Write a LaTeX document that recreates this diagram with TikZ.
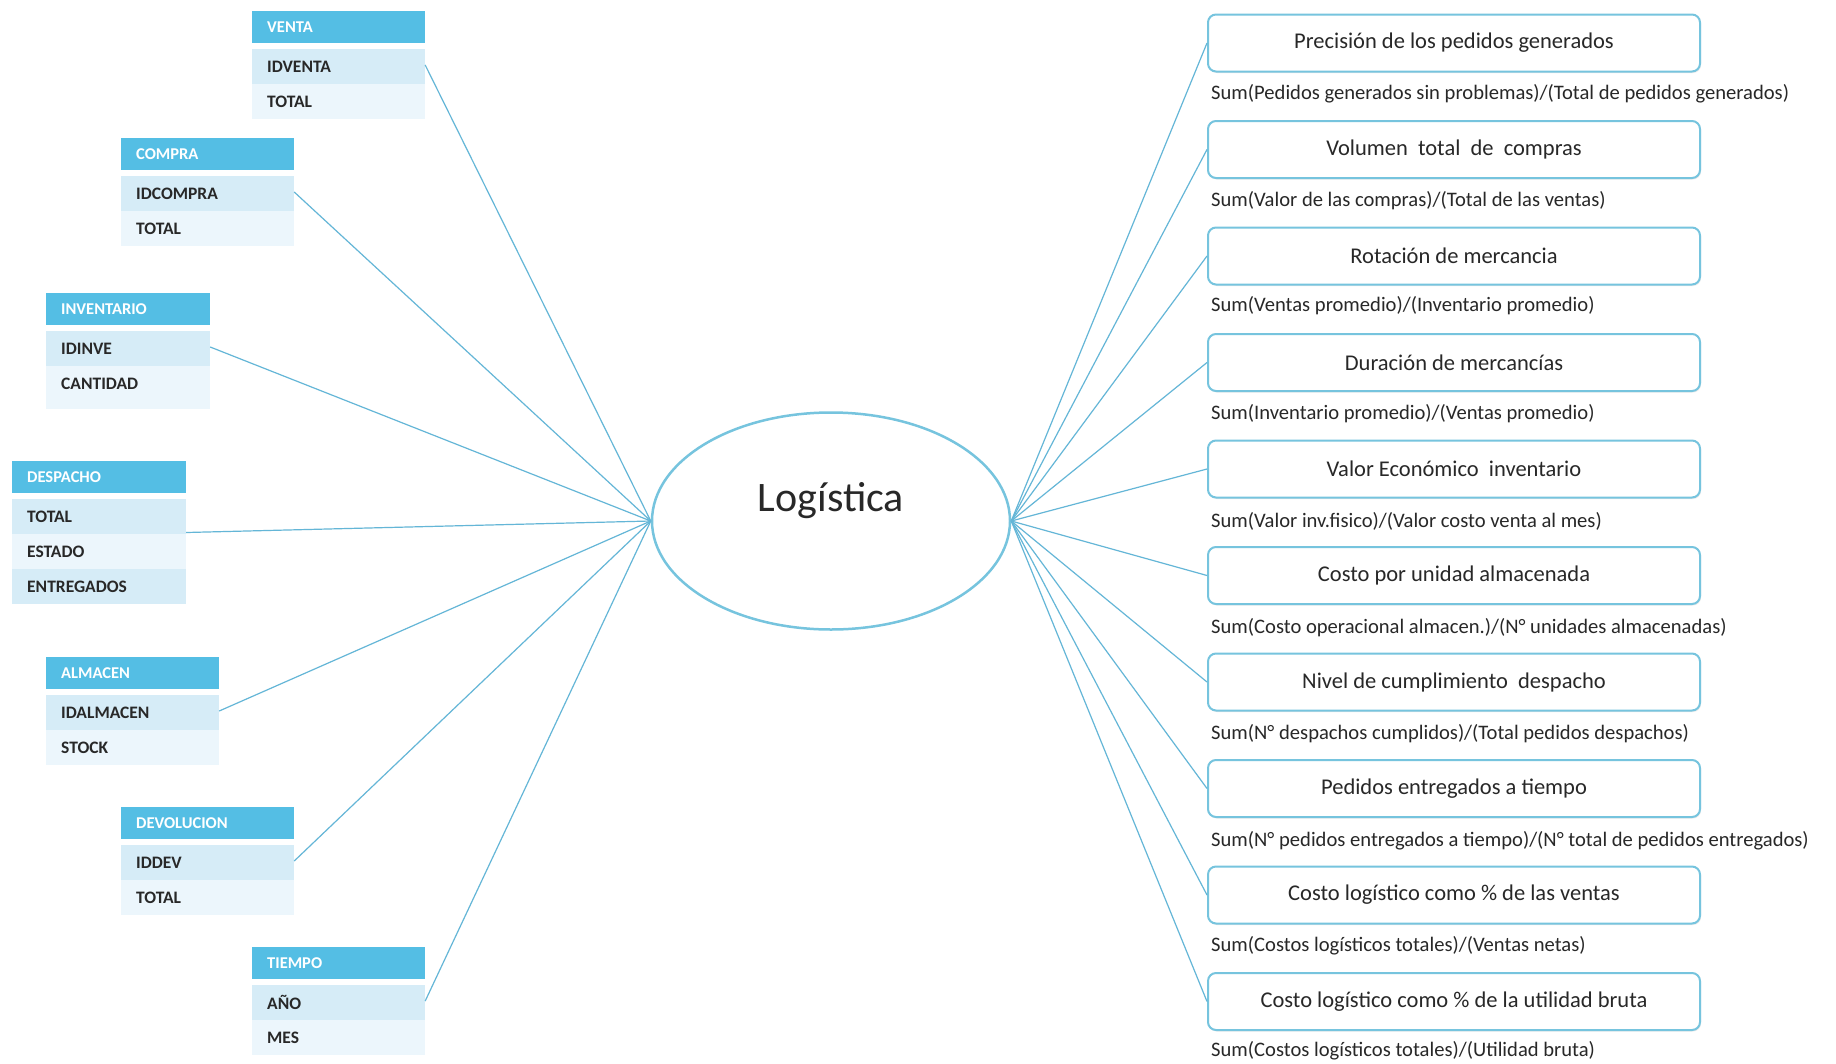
\documentclass[tikz,border=0pt]{standalone}
\usepackage{fontspec}
\setmainfont{Carlito}
\usetikzlibrary{shapes.geometric,fit,shadows}

\definecolor{hdr}{RGB}{84,190,228}
\definecolor{rowa}{RGB}{214,236,247}
\definecolor{rowb}{RGB}{236,246,252}
\definecolor{link}{RGB}{100,182,215}
\definecolor{edge}{RGB}{118,196,222}
\definecolor{ink}{RGB}{40,40,40}

\tikzset{
  hdrcell/.style={fill=hdr, anchor=north west, minimum height=32pt,
    inner xsep=15pt, inner ysep=0pt, align=left, text=white,
    font=\bfseries\fontsize{16.5}{16.5}\selectfont},
  rowcell/.style={anchor=north west, minimum height=35pt,
    inner xsep=15pt, inner ysep=0pt, align=left, text=ink,
    font=\bfseries\fontsize{17.5}{17.5}\selectfont},
  kpi/.style={rounded corners=8pt, draw=edge, line width=2pt, fill=white,
    minimum width=492pt, minimum height=57pt, inner sep=0pt, text=ink,
    font=\fontsize{22.5}{22.5}\selectfont,
    drop shadow={shadow xshift=1pt, shadow yshift=-1.5pt, opacity=0.15}},
  formula/.style={anchor=west, inner sep=0pt, text=ink,
    font=\fontsize{20.6}{20.6}\selectfont},
  link/.style={draw=link, line width=1.2pt},
}

% table: name, x, top, width, number of rows, header, rows
\newcommand\datatable[7]{%
  \pgfmathsetmacro\tw{#4-30}%
  \node[hdrcell, text width=\tw pt] (#1h) at (#2,#3) {#6};
  \foreach \txt [count=\i] in {#7} {
    \pgfmathtruncatemacro\odd{mod(\i,2)}
    \ifnum\odd=1 \def\rc{rowa}\else\def\rc{rowb}\fi
    \node[rowcell, fill=\rc, text width=\tw pt] (#1r\i) at (#2, #3+38+35*\i-35) {\txt};
  }
  \node[inner sep=0pt, fit={(#2,#3) (#2+#4, #3+38+35*#5)}] (#1) {};
}

\begin{document}
\begin{tikzpicture}[x=1pt, y=-1pt]
  \useasboundingbox[fill=white] (0,0) rectangle (1836,1063);

  % dimension tables
  \datatable{venta}{252}{11}{173}{2}{VENTA}{IDVENTA,TOTAL}
  \datatable{compra}{121}{138}{173}{2}{COMPRA}{IDCOMPRA,TOTAL}
  \fill[rowb] (46,401) rectangle (210,409);
  \datatable{inventario}{46}{293}{164}{2}{INVENTARIO}{IDINVE,CANTIDAD}
  \datatable{despacho}{12}{461}{174}{3}{DESPACHO}{TOTAL,ESTADO,ENTREGADOS}
  \datatable{almacen}{46}{657}{173}{2}{ALMACEN}{IDALMACEN,STOCK}
  \datatable{devolucion}{121}{807}{173}{2}{DEVOLUCION}{IDDEV,TOTAL}
  \datatable{tiempo}{252}{947}{173}{2}{TIEMPO}{AÑO,MES}

  % central subject
  \node[ellipse, draw=edge, line width=2.5pt, fill=white, inner sep=0pt,
        minimum width=358pt, minimum height=217pt] (log) at (831,521) {};
  \node[text=ink, font=\fontsize{42}{42}\selectfont] (logt) at (831,501) {Logística};

  % indicators
  \node[kpi] (k1)  at (1454,43)    {Precisión de los pedidos generados};
  \node[kpi] (k2)  at (1454,149.5) {Volumen\ \ total\ \ de\ \ compras};
  \node[kpi] (k3)  at (1454,256)   {Rotación de mercancia};
  \node[kpi] (k4)  at (1454,362.5) {Duración de mercancías};
  \node[kpi] (k5)  at (1454,469)   {Valor Económico\ \ inventario};
  \node[kpi] (k6)  at (1454,575.5) {Costo por unidad almacenada};
  \node[kpi] (k7)  at (1454,682)   {Nivel de cumplimiento\ \ despacho};
  \node[kpi] (k8)  at (1454,788.5) {Pedidos entregados a tiempo};
  \node[kpi] (k9)  at (1454,895)   {Costo logístico como \% de las ventas};
  \node[kpi] (k10) at (1454,1001.5){Costo logístico como \% de la utilidad bruta};

  \node[formula] (f1)  at (1211,94)     {Sum(Pedidos generados sin problemas)/(Total de pedidos generados)};
  \node[formula] (f2)  at (1211,200.5)  {Sum(Valor de las compras)/(Total de las ventas)};
  \node[formula] (f3)  at (1211,306)    {Sum(Ventas promedio)/(Inventario promedio)};
  \node[formula] (f4)  at (1211,414)    {Sum(Inventario promedio)/(Ventas promedio)};
  \node[formula] (f5)  at (1211,521)    {Sum(Valor inv.fisico)/(Valor costo venta al mes)};
  \node[formula] (f6)  at (1211,628)    {Sum(Costo operacional almacen.)/(N° unidades almacenadas)};
  \node[formula] (f7)  at (1211,734)    {Sum(N° despachos cumplidos)/(Total pedidos despachos)};
  \node[formula] (f8)  at (1211,840.5)  {Sum(N° pedidos entregados a tiempo)/(N° total de pedidos entregados)};
  \node[formula] (f9)  at (1211,946)    {Sum(Costos logísticos totales)/(Ventas netas)};
  \node[formula] (f10) at (1211,1050.5) {Sum(Costos logísticos totales)/(Utilidad bruta)};

  % connectors
  \foreach \t in {venta,compra,inventario,despacho,almacen,devolucion,tiempo}
    \draw[link] (log.west) -- (\t.east);
  \foreach \k in {1,...,10}
    \draw[link] (log.east) -- (k\k.west);
\end{tikzpicture}
\end{document}
